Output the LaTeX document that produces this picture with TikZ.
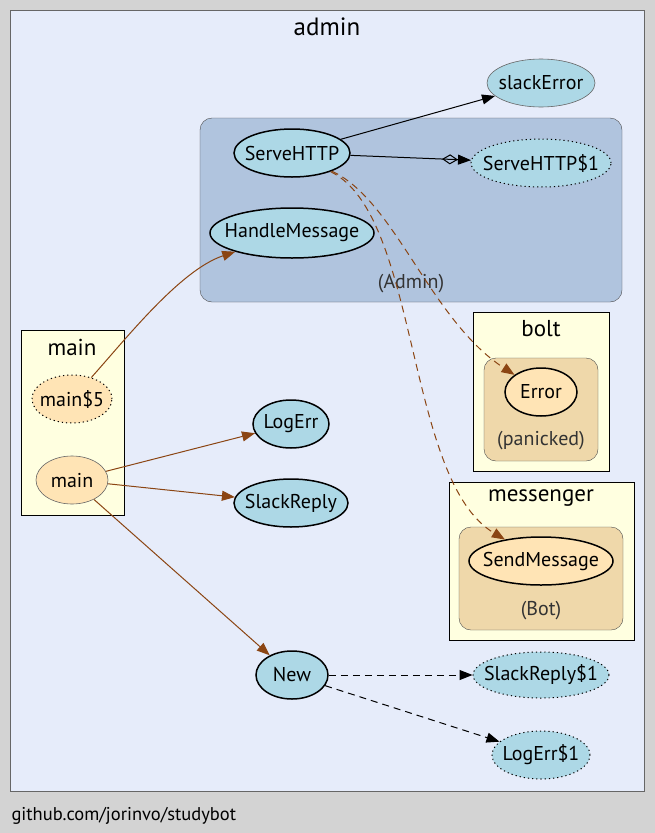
\documentclass[tikz,border=0pt]{standalone}
\usepackage{fontspec}
\setmainfont{PT Sans}
\usetikzlibrary{arrows.meta,shapes.geometric}
\definecolor{gvbg}{RGB}{211, 211, 211}
\definecolor{gvpkg}{RGB}{230, 236, 250}
\definecolor{gvtype}{RGB}{176, 196, 222}
\definecolor{gvext}{RGB}{255, 255, 224}
\definecolor{gvrecv}{RGB}{239, 216, 170}
\definecolor{gvfunc}{RGB}{173, 216, 230}
\definecolor{gvmain}{RGB}{255, 228, 181}
\definecolor{gvcall}{RGB}{139, 69, 19}
\tikzset{
  fn/.style={ellipse, fill=gvfunc, draw=black, line width=1.5pt,
    inner xsep=-15pt, inner ysep=0pt, font=\fontsize{20}{22}\selectfont},
  fnout/.style={fn, draw=black!60, line width=0.6pt},
  fnanon/.style={fn, line width=1pt, dash pattern=on 1.2pt off 3pt},
  fnext/.style={fn, fill=gvmain},
  title/.style={font=\fontsize{23}{25}\selectfont},
  recv/.style={font=\fontsize{20}{22}\selectfont, black!80},
  tip/.style={-{Triangle[length=13pt,width=10pt]}},
  call/.style={tip, gvcall, line width=1pt},
  dyn/.style={tip, black, line width=1pt, dash pattern=on 7pt off 5pt},
}
\begin{document}
\begin{tikzpicture}[x=1pt, y=-1pt]
\fill[gvbg] (0,0) rectangle (655,833);
\useasboundingbox (0,0) rectangle (655,833);
% clusters
\draw[black!60, fill=gvpkg] (10,10) rectangle (644,791);
\node[font=\fontsize{25}{27}\selectfont] at (327,27) {admin};
\draw[black!70, fill=gvtype, rounded corners=12pt] (200,118) rectangle (622,302);
\node[recv] at (411,284) {(Admin)};
\draw[black, fill=gvext] (21,330) rectangle (124,515);
\node[title] at (72,347) {main};
\draw[black, fill=gvext] (473,312) rectangle (609,471);
\node[title] at (541,329) {bolt};
\draw[black!70, fill=gvrecv, rounded corners=12pt] (484,358) rectangle (598,461);
\node[recv] at (541,441) {(panicked)};
\draw[black, fill=gvext] (449,482) rectangle (634,640);
\node[title] at (541,498) {messenger};
\draw[black!70, fill=gvrecv, rounded corners=12pt] (459,527) rectangle (623,630);
\node[recv] at (541,611) {(Bot)};
% functions
\node[fnout, minimum width=108pt, minimum height=48pt] (slackError) at (541,83) {slackError};
\node[fn, minimum width=116pt, minimum height=48pt] (serve) at (292,153) {ServeHTTP};
\node[fnanon, minimum width=140pt, minimum height=48pt] (serve1) at (541,163) {ServeHTTP\$1};
\node[fn, minimum width=164pt, minimum height=50pt] (handle) at (292,233) {HandleMessage};
\node[fnanon, fill=gvmain, minimum width=80pt, minimum height=48pt] (main5) at (72,399) {main\$5};
\node[fnout, fill=gvmain, minimum width=72pt, minimum height=48pt] (main) at (72,480) {main};
\node[fn, minimum width=76pt, minimum height=48pt] (logErr) at (291,424) {LogErr};
\node[fn, minimum width=114pt, minimum height=48pt] (slackReply) at (291,503) {SlackReply};
\node[fn, minimum width=72pt, minimum height=48pt] (new) at (292,675) {New};
\node[fnanon, minimum width=136pt, minimum height=46pt] (slackReply1) at (541,675) {SlackReply\$1};
\node[fnanon, minimum width=98pt, minimum height=48pt] (logErr1) at (541,755) {LogErr\$1};
\node[fnext, minimum width=72pt, minimum height=48pt] (error) at (541,392) {Error};
\node[fnext, minimum width=144pt, minimum height=48pt] (send) at (541,561) {SendMessage};
% calls
\draw[tip, line width=1pt] (serve) -- (slackError);
\draw[line width=1pt, -{Diamond[open,length=16pt,width=10pt] Triangle[length=13pt,width=10pt]}] (serve) -- (serve1);
\draw[call] (main5) .. controls (125,340) and (180,270) .. (handle);
\draw[call] (main) -- (logErr);
\draw[call] (main) -- (slackReply);
\draw[call] (main) -- (new);
\draw[call, dash pattern=on 7pt off 5pt] (serve) .. controls (395,200) and (430,320) .. (error);
\draw[call, dash pattern=on 7pt off 5pt] (serve) .. controls (420,215) and (405,480) .. (send);
\draw[dyn] (new) -- (slackReply1);
\draw[dyn] (new) -- (logErr1);
% footer
\node[anchor=west, font=\fontsize{18.5}{20}\selectfont] at (8,816) {github.com/jorinvo/studybot};
\end{tikzpicture}
\end{document}
